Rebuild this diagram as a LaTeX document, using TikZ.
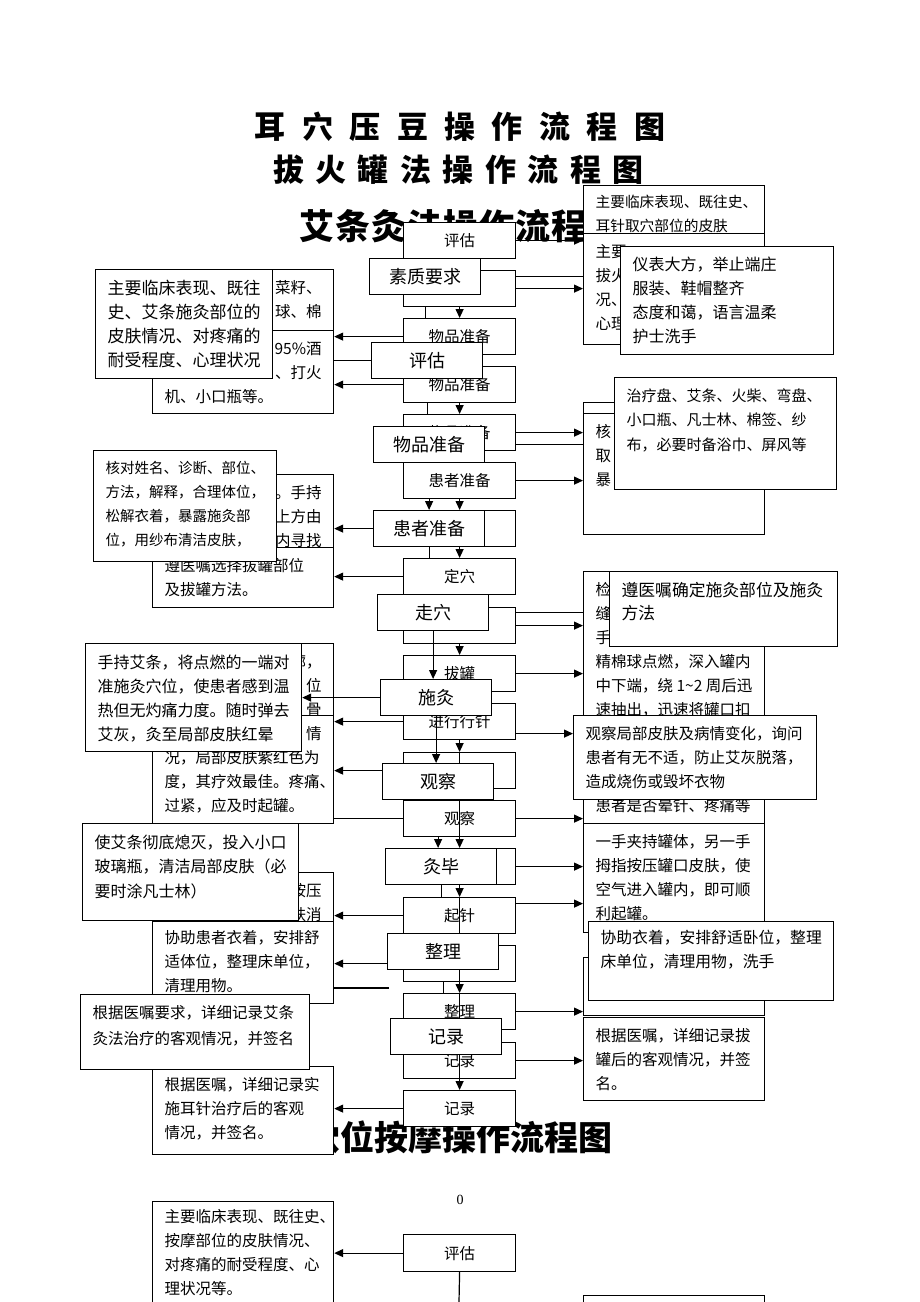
\documentclass[tikz,border=0pt]{standalone}
\usepackage{fontspec}
\setmainfont{Noto Sans CJK SC}
\newfontfamily\numfont{Liberation Serif}
\usetikzlibrary{arrows.meta, backgrounds}
\pgfdeclarelayer{titles}
\pgfdeclarelayer{under}
\pgfdeclarelayer{middle}
\pgfsetlayers{titles,under,middle,main}
\newcommand{\gp}[1]{\hspace{#1pt}}

\begin{document}
\begin{tikzpicture}[x=1pt, y=-1pt,
    stepbox/.style={draw, fill=white, line width=1.2pt, anchor=north west, inner sep=0pt,
      minimum width=112pt, minimum height=36pt, font=\fontsize{15.5}{18}\selectfont},
    mainstep/.style={stepbox, minimum width=111pt, font=\fontsize{18}{20}\selectfont},
    tbox/.style 2 args={draw, fill=white, line width=1.2pt, anchor=north west,
      inner xsep=12pt, inner ysep=11pt, font=\fontsize{15.5}{24}\selectfont,
      execute at begin node={\begin{minipage}[c][\dimexpr#2pt-22pt\relax][t]{\dimexpr#1pt-24pt\relax}},
      execute at end node={\end{minipage}}},
    headline/.style={font=\bfseries\fontsize{#1}{#1}\selectfont, inner sep=0pt},
    arr/.style={-{Triangle[length=9pt,width=8pt]}, line width=1.2pt},
    ln/.style={line width=1.2pt}]

    \useasboundingbox (0,0) rectangle (920,1302);

    \begin{pgfonlayer}{titles}
        \fill[white] (0,0) rectangle (920,1302);
        \node[headline=31] (t1) at (460,127) {耳\gp{16.4}穴\gp{16.4}压\gp{16.4}豆\gp{16.4}操\gp{16.4}作\gp{16.4}流\gp{16.4}程\gp{16.4}图};
        \node[headline=31] (t2) at (458.5,170) {拔\gp{11.5}火\gp{11.5}罐\gp{11.5}法\gp{11.5}操\gp{11.5}作\gp{11.5}流\gp{11.5}程\gp{11.5}图};
        \node[headline=35] (t3) at (461,226) {艾\gp{1}条\gp{1}灸\gp{1}法\gp{1}操\gp{1}作\gp{1}流\gp{1}程\gp{1}图};
        \node[headline=34] (t4) at (459,1137) {穴位按摩操作流程图};
        \node[font=\numfont\fontsize{14}{14}\selectfont] (pnum) at (460,1200) {0};
    \end{pgfonlayer}

    % back sheets
    \begin{pgfonlayer}{middle}
        \node[tbox={181}{61}] (L1a) at (152,269) {\hspace*{\fill}菜籽、\\\hspace*{\fill}球、棉};
        \node[tbox={181}{83}] (L1b) at (152,330) {\hspace*{\fill}95\%酒\\\hspace*{\fill}、打火\\机、小口瓶等。};
        \node[tbox={181}{73}] (L2a) at (152,474) {\hspace*{\fill}。手持\\\hspace*{\fill}上方由\\\hspace*{\fill}内寻找};
        \node[tbox={181}{60}] (L2b) at (152,547) {遵医嘱选择拔罐部位\\及拔罐方法。};
        \node[tbox={181}{80}] (L3a) at (152,643) {\hspace*{\fill}廓，\\\hspace*{\fill}位\\\hspace*{\fill}骨};
        \node[tbox={181}{108}] (L3b) at (152,715) {\hspace*{\fill}情\\况，局部皮肤紫红色为\\度，其疗效最佳。疼痛、\\过紧，应及时起罐。};
        \node[tbox={181}{60}] (L4a) at (152,872) {\hspace*{\fill}按压\\\hspace*{\fill}肤消};
        \node[tbox={181}{86}, inner ysep=9pt] (L4b) at (152,921) {协助患者衣着，安排舒\\适体位，整理床单位，\\清理用物。};
        \node[tbox={181}{88}] (L5) at (152,1066) {根据医嘱，详细记录实\\施耳针治疗后的客观\\情况，并签名。};
        \node[tbox={181}{122}, inner ysep=8pt] (L6) at (152,1201) {主要临床表现、既往史、\\按摩部位的皮肤情况、\\对疼痛的耐受程度、心\\理状况等。};

        \node[tbox={181}{80}, inner ysep=9pt, font=\fontsize{14.7}{24}\selectfont] (R1) at (583,185) {主要临床表现、既往史、\\耳针取穴部位的皮肤};
        \node[tbox={181}{111}] (R2) at (583,233) {主要\\拔火\\况、\\心理};
        \node[stepbox, minimum width=181pt, minimum height=120pt] (R3a) at (583,402) {};
        \node[tbox={181}{121}] (R3b) at (583,413) {核\\取\\暴};
        \node[tbox={181}{252}] (R4) at (583,571) {检\\缝\\手\\精棉球点燃，深入罐内\\中下端，绕~1\textasciitilde 2~周后迅\\速抽出，迅速将罐口扣\\\mbox{}\\\mbox{}\\\mbox{}\\患者是否晕针、疼痛等};
        \node[tbox={181}{109}] (R5) at (583,823) {一手夹持罐体，另一手\\拇指按压罐口皮肤，使\\空气进入罐内，即可顺\\利起罐。};
        \node[stepbox, minimum width=181pt, minimum height=58pt] (R6) at (583,957) {};
        \node[tbox={181}{83}] (R7) at (583,1017) {根据医嘱，详细记录拔\\罐后的客观情况，并签\\名。};
        \node[stepbox, minimum width=181pt, minimum height=60pt] (R8) at (583,1295) {};

        \node[stepbox] (c1) at (403,222) {评估};
        \node[stepbox] (c2) at (403,270) {};
        \node[stepbox] (c3) at (403,318) {物品准备};
        \node[stepbox] (c4) at (403,366) {物品准备};
        \node[stepbox] (c5) at (403,414) {物品准备};
        \node[stepbox] (c6) at (403,462) {患者准备};
        \node[stepbox] (c7) at (403,510) {};
        \node[stepbox] (c8) at (403,558) {定穴};
        \node[stepbox] (c9) at (403,607) {};
        \node[stepbox] (c10) at (403,655) {拔罐};
        \node[stepbox] (c11) at (403,703) {进行行针};
        \node[stepbox] (c12) at (403,752) {};
        \node[stepbox] (c13) at (403,800) {观察};
        \node[stepbox] (c14) at (403,848) {};
        \node[stepbox] (c15) at (403,897) {起针};
        \node[stepbox] (c16) at (403,945) {};
        \node[stepbox] (c17) at (403,993) {整理};
        \node[stepbox] (c18) at (403,1042) {记录};
        \node[stepbox] (c19) at (403,1090) {记录};
        \node[stepbox, minimum height=37pt] (c20) at (403,1234) {评估};
    \end{pgfonlayer}

    % front sheet
    \node[mainstep] (Fsz) at (369,258) {素质要求};
    \node[mainstep] (Fpg) at (371,342) {评估};
    \node[mainstep] (Fwp) at (373,426) {物品准备};
    \node[mainstep] (Fhz) at (373,510) {患者准备};
    \node[mainstep] (Fzx) at (377,594) {走穴};
    \node[mainstep] (Fsj) at (380,679) {施灸};
    \node[mainstep] (Fgc) at (382,763) {观察};
    \node[mainstep] (Fjb) at (385,848) {灸毕};
    \node[mainstep] (Fzl) at (387,933) {整理};
    \node[mainstep] (Fjl) at (390,1018) {记录};

    \node[tbox={177}{109}, font=\fontsize{17}{24}\selectfont] (F1) at (95,269) {主要临床表现、既往\\史、艾条施灸部位的\\皮肤情况、对疼痛的\\耐受程度、心理状况};
    \node[tbox={183}{111}, font=\fontsize{14.5}{24}\selectfont] (F2) at (93,450) {核对姓名、诊断、部位、\\方法，解释，合理体位，\\松解衣着，暴露施灸部\\位，用纱布清洁皮肤，};
    \node[tbox={216}{108}, font=\fontsize{16}{24}\selectfont] (F3) at (85,643) {手持艾条，将点燃的一端对\\准施灸穴位，使患者感到温\\热但无灼痛力度。随时弹去\\艾灰，灸至局部皮肤红晕};
    \node[tbox={216}{97}, font=\fontsize{16}{24.5}\selectfont] (F4) at (82,823) {使艾条彻底熄灭，投入小口\\玻璃瓶，清洁局部皮肤（必\\要时涂凡士林）};
    \node[tbox={229}{75}, font=\fontsize{15.5}{26}\selectfont] (F5) at (80,994) {根据医嘱要求，详细记录艾条\\灸法治疗的客观情况，并签名};

    \node[tbox={213}{110}, inner ysep=10pt, font=\fontsize{16}{24}\selectfont] (RF1) at (620,246) {仪表大方，举止端庄\\服装、鞋帽整齐\\态度和蔼，语言温柔\\护士洗手};
    \node[tbox={222}{112}, font=\fontsize{15}{24.5}\selectfont] (RF2) at (614,377) {治疗盘、艾条、火柴、弯盘、\\小口瓶、凡士林、棉签、纱\\布，必要时备浴巾、屏风等};
    \node[tbox={228}{75}, font=\fontsize{16.8}{23}\selectfont] (RF3) at (609,571) {遵医嘱确定施灸部位及施灸\\方法};
    \node[tbox={243}{84}, font=\fontsize{15.5}{24}\selectfont] (RF4) at (573,715) {观察局部皮肤及病情变化，询问\\患者有无不适，防止艾灰脱落，\\造成烧伤或毁坏衣物};
    \node[tbox={245}{83}, inner ysep=9pt, font=\fontsize{15.8}{24}\selectfont] (RF5) at (588,921) {协助衣着，安排舒适卧位，整理\\床单位，清理用物，洗手};

    % links of the front sheet that run under the back sheets
    \begin{pgfonlayer}{under}
        \draw[arr] (Fsz.east) -- (Fsz.east -| RF1.west);
        \draw[arr] (Fpg.west) -- (Fpg.west -| F1.east);
        \draw[arr] (Fwp.east) -- (Fwp.east -| RF2.west);
        \draw[arr] (Fzx.east) -- (Fzx.east -| RF3.west);
        \draw[arr] (Fsz.south) -- (Fsz.south |- Fpg.north);
        \draw[arr] (Fpg.south) -- (Fpg.south |- Fwp.north);
        \draw[arr] (Fwp.south) -- (Fwp.south |- Fhz.north);
        \draw[arr] (Fhz.south) -- (Fhz.south |- Fzx.north);
        \draw[arr] (Fgc.south) -- (Fgc.south |- Fjb.north);
        \draw[arr] (Fjb.south) -- (Fjb.south |- Fzl.north);
        \draw[arr] (Fzl.south) -- (Fzl.south |- Fjl.north);
        \draw[ln] (c13.west) -- (c13.west -| L3b.east);
        \coordinate (stub) at (389,988);
        \draw[ln] (stub) -- (stub -| L4b.east);
    \end{pgfonlayer}

    \begin{pgfonlayer}{middle}
        \draw[arr] (c1.east) -- (c1.east -| R1.west);
        \draw[arr] (c2.east) -- (c2.east -| R2.west);
        \draw[arr] (c3.west) -- (c3.west -| L1a.east);
        \draw[arr] (c4.west) -- (c4.west -| L1b.east);
        \draw[arr] (c5.east) -- (c5.east -| R3b.west);
        \draw[arr] (c6.east) -- (c6.east -| R3b.west);
        \draw[arr] (c7.west) -- (c7.west -| L2a.east);
        \draw[arr] (c8.west) -- (c8.west -| L2b.east);
        \draw[arr] (c9.east) -- (c9.east -| R4.west);
        \draw[arr] (c10.east) -- (c10.east -| R4.west);
        \draw[arr] (c11.west) -- (c11.west -| L3b.east);
        \draw[arr] ([yshift=-12pt]c11.east) -- ([yshift=-12pt]c11.east -| RF4.west);
        \draw[arr] (c12.west) -- (c12.west -| L3b.east);
        \draw[arr] (c13.east) -- (c13.east -| R4.west);
        \draw[arr] (c14.east) -- (c14.east -| R5.west);
        \draw[arr] ([yshift=12pt]c15.east) -- ([yshift=12pt]c15.east -| R5.west);
        \draw[arr] (c15.west) -- (c15.west -| L4a.east);
        \draw[arr] (c16.west) -- (c16.west -| L4b.east);
        \draw[arr] (c17.east) -- (c17.east -| R7.west);
        \draw[arr] (c18.east) -- (c18.east -| R7.west);
        \draw[arr] (c19.west) -- (c19.west -| L5.east);
        \draw[arr] (c20.west) -- (c20.west -| L6.east);
        \coordinate (cend) at (459,1302);
        \draw[ln] (c20.south) -- (cend);
        \foreach \a/\b in {c1/c2, c2/c3, c3/c4, c4/c5, c5/c6, c6/c7, c7/c8, c8/c9, c9/c10, c10/c11, c11/c12}
            \draw[arr] (\a.south) -- (\b.north);
        \foreach \a/\b in {c12/c13, c13/c14, c14/c15, c15/c16, c16/c17, c17/c18, c18/c19}
            \draw[arr] (\a.north) -- (\b.north);
    \end{pgfonlayer}

    \draw[arr] (Fzx.south) -- (Fzx.south |- Fsj.north);
    \draw[arr] (Fsj.south) -- (Fsj.south |- Fgc.north);
    \draw[arr] (Fsj.west) -- (Fsj.west -| F3.east);
\end{tikzpicture}
\end{document}
